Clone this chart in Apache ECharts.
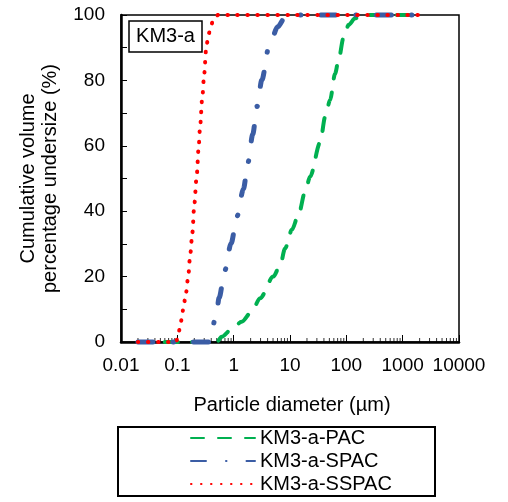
<!DOCTYPE html>
<html>
<head>
<meta charset="utf-8">
<script src="https://cdn.jsdelivr.net/npm/echarts@6/dist/echarts.min.js"></script>
<style>
html,body{margin:0;padding:0;background:#fff;}
#chart{width:508px;height:502px;}
</style>
</head>
<body>
<div id="chart"></div>
<script>
// ---- data ----
var seriesNames = ['KM3-a-PAC', 'KM3-a-SPAC', 'KM3-a-SSPAC'];
var pacSize = [0.02, 0.05, 0.1, 0.2, 0.35, 0.5, 0.615, 0.92, 1.39, 2.1, 2.94, 5.07, 6.7, 8.18, 10.8, 14.1, 18.6, 22.8, 34.3, 42.2, 51.5, 63, 72.4, 89, 110, 143, 200, 500, 1000, 2000];
var pacValue = [0, 0, 0, 0, 0, 0, 1.6, 3.9, 6.2, 9.3, 13.4, 20, 23.5, 28.6, 34.3, 38.8, 46, 50.6, 61, 68.9, 74, 82, 86, 93, 97, 99, 100, 100, 100, 100];
var spacSize = [0.02, 0.05, 0.1, 0.2, 0.36, 0.393, 0.49, 0.551, 0.7, 0.9, 1.15, 1.49, 1.8, 2.18, 2.6, 3.16, 4.2, 6.06, 8, 11.3, 50, 200, 1000, 2000];
var spacValue = [0, 0, 0, 0, 0, 2.7, 8, 13.5, 22, 30.2, 38.5, 46.8, 55, 63.5, 72, 80.1, 90, 96.4, 99, 100, 100, 100, 100, 100];
var sspacSize = [0.02, 0.03, 0.05, 0.07, 0.095, 0.1017, 0.1117, 0.12, 0.128, 0.14, 0.155, 0.17, 0.185, 0.2, 0.22, 0.24, 0.253, 0.278, 0.3, 0.324, 0.356, 0.397, 0.43, 0.53, 1, 10, 100, 1000, 2000];
var sspacValue = [0, 0, 0, 0, 0, 1.5, 4.4, 7.2, 10.5, 14, 19.5, 27, 33.5, 42, 50.5, 60, 65.8, 75, 82, 89.5, 94, 96.6, 98.5, 100, 100, 100, 100, 100, 100];
var xTickLabels = ['0.01', '0.1', '1', '10', '100', '1000', '10000'];
var yTickLabels = ['0', '20', '40', '60', '80', '100'];

function pairs(xs, ys) { return xs.map(function (x, i) { return [x, ys[i]]; }); }

// minor tick positions of the log axis (2..9 of each decade)
var minorTicks = [];
for (var d = 0; d < xTickLabels.length - 1; d++) {
  var base = parseFloat(xTickLabels[d]);
  for (var k = 2; k <= 9; k++) minorTicks.push([base * k, 0]);
}

var FONT = 'Liberation Sans, Arial, sans-serif';
var chart = echarts.init(document.getElementById('chart'), null, {renderer: 'canvas'});
chart.setOption({
  animation: false,
  backgroundColor: '#fff',
  grid: {left: 121, right: 49, top: 15, bottom: 160, show: true, borderColor: '#000', borderWidth: 1.5, backgroundColor: 'transparent'},
  xAxis: {
    type: 'log', logBase: 10, min: 0.01, max: 10000,
    axisLine: {show: true, onZero: false, lineStyle: {color: '#000', width: 2.5}},
    axisTick: {show: true, inside: true, length: 7, lineStyle: {color: '#000', width: 1}},
    splitLine: {show: false},
    axisLabel: {
      margin: 14, color: '#000', fontSize: 19, fontFamily: FONT,
      formatter: function (v) {
        var idx = Math.round(Math.log10(v)) + 2;
        return xTickLabels[idx] !== undefined ? xTickLabels[idx] : '';
      }
    }
  },
  yAxis: {
    type: 'value', min: 0, max: 100, interval: 20,
    axisLine: {show: true, lineStyle: {color: '#000', width: 2.5}},
    axisTick: {show: true, inside: true, length: 6, lineStyle: {color: '#000', width: 1}},
    minorTick: {show: true, splitNumber: 2, length: 6, lineStyle: {color: '#000', width: 1}},
    splitLine: {show: false},
    axisLabel: {
      margin: 16, color: '#000', fontSize: 19, fontFamily: FONT,
      formatter: function (v) { return yTickLabels[Math.round(v / 20)]; }
    }
  },
  legend: {
    orient: 'vertical', left: 190, top: 428, itemWidth: 64, itemHeight: 14, itemGap: 3,
    data: seriesNames,
    itemStyle: {opacity: 0},
    textStyle: {color: '#000', fontSize: 20, fontFamily: FONT, padding: [0, 0, 0, 0]},
    padding: 0
  },
  series: [
    {
      type: 'scatter', data: minorTicks, symbol: 'rect', symbolSize: [1, 4], symbolOffset: [0, -2],
      itemStyle: {color: '#000'}, silent: true, z: 1
    },
    {
      name: seriesNames[0], type: 'line', data: pairs(pacSize, pacValue), showSymbol: false, symbol: 'none',
      smooth: 0.3, smoothMonotone: 'x', clip: false, color: '#00B050',
      lineStyle: {color: '#00B050', width: 4, type: [13, 14], cap: 'round'}, z: 3
    },
    {
      name: seriesNames[1], type: 'line', data: pairs(spacSize, spacValue), showSymbol: false, symbol: 'none',
      smooth: 0.3, smoothMonotone: 'x', clip: false, color: '#3B5DA5',
      lineStyle: {color: '#3B5DA5', width: 5, type: [15, 20, 0.5, 20], cap: 'round'}, z: 4
    },
    {
      name: seriesNames[2], type: 'line', data: pairs(sspacSize, sspacValue), showSymbol: false, symbol: 'none',
      smooth: 0.3, smoothMonotone: 'x', clip: false, color: '#FF0000',
      lineStyle: {color: '#FF0000', width: 4, type: [0.5, 9.5], cap: 'round'}, z: 5
    }
  ],
  graphic: [
    {type: 'rect', shape: {x: 129, y: 21, width: 73, height: 31}, style: {fill: '#fff', stroke: '#000', lineWidth: 1.5}, z: 10},
    {type: 'text', x: 165.5, y: 36.5, style: {text: 'KM3-a', fill: '#000', font: '20px ' + FONT, textAlign: 'center', textVerticalAlign: 'middle'}, z: 11},
    {type: 'text', x: 292, y: 405, style: {text: 'Particle diameter (µm)', fill: '#000', font: '20px ' + FONT, textAlign: 'center', textVerticalAlign: 'middle'}},
    {type: 'text', x: 28, y: 178.5, rotation: Math.PI / 2, style: {text: 'Cumulative volume', fill: '#000', font: '20px ' + FONT, textAlign: 'center', textVerticalAlign: 'middle'}},
    {type: 'text', x: 50, y: 178.5, rotation: Math.PI / 2, style: {text: 'percentage undersize (%)', fill: '#000', font: '20px ' + FONT, textAlign: 'center', textVerticalAlign: 'middle'}},
    {type: 'rect', shape: {x: 118, y: 427, width: 317, height: 69}, style: {fill: 'none', stroke: '#000', lineWidth: 2}}
  ]
});
</script>
</body>
</html>
